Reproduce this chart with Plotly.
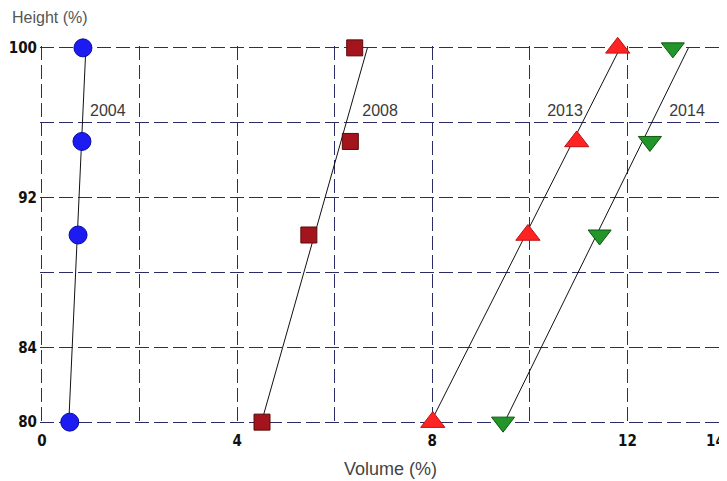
import plotly.graph_objects as go

heights = [80, 90, 95, 100]
vol_2004 = [0.57, 0.74, 0.82, 0.84]
vol_2008 = [4.51, 5.47, 6.32, 6.41]
vol_2013 = [8.01, 9.96, 10.96, 11.8]
vol_2014 = [9.45, 11.43, 12.46, 12.93]

trend_heights = [80, 100]
trend_2004 = [0.55, 0.90]
trend_2008 = [4.50, 6.67]
trend_2013 = [7.97, 11.85]
trend_2014 = [9.48, 13.25]

series_labels = ["2004", "2008", "2013", "2014"]
label_x = [1.35, 6.93, 10.72, 13.22]
label_y = [96.6, 96.6, 96.6, 96.6]

x_grid = [0, 2, 4, 6, 8, 10, 12, 14]
x_text = ["0", "", "4", "", "8", "", "12", ""]
x_last_label = "14"
y_grid = [80, 84, 88, 92, 96, 100]
y_text = ["80", "84", "", "92", "", "100"]

styles = [
    dict(symbol="circle", size=18, color="#1c1cf2", line=dict(color="#0a0aa0", width=1)),
    dict(symbol="square", size=16, color="#a3141c", line=dict(color="#5a0a0a", width=1)),
    dict(symbol="triangle-up", size=21, color="#ff2424", line=dict(color="#c01010", width=1)),
    dict(symbol="triangle-down", size=20, color="#22962a", line=dict(color="#0c560c", width=1)),
]

fig = go.Figure()
for tv in [trend_2004, trend_2008, trend_2013, trend_2014]:
    fig.add_trace(go.Scatter(x=tv, y=trend_heights, mode="lines", cliponaxis=False,
                             line=dict(color="#111111", width=1), showlegend=False, hoverinfo="skip"))
for vals, st in zip([vol_2004, vol_2008, vol_2013, vol_2014], styles):
    fig.add_trace(go.Scatter(x=vals, y=heights, mode="markers", marker=st,
                             cliponaxis=False, showlegend=False))

fig.add_trace(go.Scatter(x=label_x, y=label_y, mode="text", text=series_labels, cliponaxis=False,
                         textfont=dict(family="Liberation Sans, Arial", size=16, color="#3a3a3a"),
                         showlegend=False, hoverinfo="skip"))

grid_style = dict(showgrid=True, gridcolor="#2b2b66", gridwidth=1, griddash="14px,5px",
                  zeroline=False, showline=False, ticks="", automargin=False)
tick_font = dict(family="Liberation Sans Narrow, DejaVu Sans Condensed, Arial Narrow, Arial",
                 size=15, color="#111111", weight="bold")

fig.update_xaxes(range=[-0.04, 14.04], tickvals=x_grid, ticktext=x_text,
                 tickfont=tick_font, ticklabelstandoff=6, **grid_style)
fig.update_yaxes(range=[79.9, 100.1], tickvals=y_grid, ticktext=y_text,
                 tickfont=tick_font, ticklabelstandoff=2, **grid_style)

fig.add_annotation(text=x_last_label, xref="paper", yref="paper", x=1.0, y=-0.045,
                   xanchor="right", yanchor="middle", showarrow=False, font=tick_font)
fig.add_annotation(text="Height (%)", xref="paper", yref="paper", x=-0.044, y=1.075,
                   xanchor="left", yanchor="middle", showarrow=False,
                   font=dict(family="Liberation Sans, Arial", size=16, color="#555555"))
fig.add_annotation(text="Volume (%)", xref="paper", yref="paper", x=0.51, y=-0.12,
                   xanchor="center", yanchor="middle", showarrow=False,
                   font=dict(family="Liberation Sans, Arial", size=18, color="#444444"))

fig.update_layout(width=719, height=473, margin=dict(l=32, r=0, t=38, b=57, autoexpand=False),
                  plot_bgcolor="white", paper_bgcolor="white")
fig.write_html("out.html")
